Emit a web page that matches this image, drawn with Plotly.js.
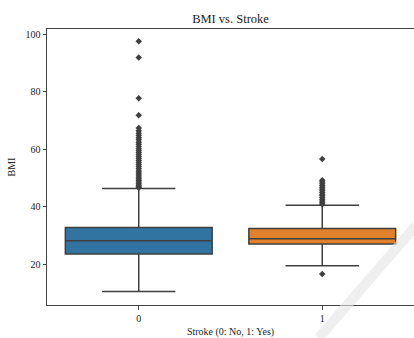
<!DOCTYPE html>
<html><head><meta charset="utf-8">
<script src="https://cdn.plot.ly/plotly-3.0.1.min.js"></script>
<style>html,body{margin:0;padding:0;background:#fff}#c{width:414px;height:338px}</style>
</head><body><div id="c"></div>
<script>
const categories = [0, 1];
const tickLabels = ["0", "1"];
const q1 = [23.6, 27.0];
const medians = [28.2, 28.9];
const q3 = [32.8, 32.4];
const lowerFence = [10.5, 19.5];
const upperFence = [46.4, 40.5];
const outliers0 = [97.6, 92.0, 77.8, 71.9, 67.4, 66.5, 65.6, 64.8, 64.0, 63.3, 62.5, 61.8, 61.0, 60.2, 59.5, 58.8, 58.1, 57.4, 56.7, 56.0, 55.3, 54.6, 53.9, 53.2, 52.5, 51.8, 51.1, 50.4, 49.8, 49.2, 48.6, 48.0, 47.5, 47.0, 46.6];
const outliers1 = [56.6, 49.2, 48.6, 48.0, 47.4, 46.8, 46.2, 45.6, 45.0, 44.4, 43.8, 43.2, 42.6, 42.0, 41.4, 40.9, 16.6];
const colors = ["#3274a1", "#e1812c"];

const traces = categories.map((c, i) => ({
  type: "box",
  x: [c],
  q1: [q1[i]], median: [medians[i]], q3: [q3[i]],
  lowerfence: [lowerFence[i]], upperfence: [upperFence[i]],
  boxpoints: false,
  width: 0.8,
  whiskerwidth: 0.5,
  fillcolor: colors[i],
  line: {color: "#3f3f3f", width: 1.5},
  hoverinfo: "skip",
  showlegend: false
}));
[outliers0, outliers1].forEach((arr, i) => {
  traces.push({
    type: "scatter", mode: "markers",
    x: arr.map(() => categories[i]), y: arr,
    marker: {symbol: "diamond", size: 5, color: "#3f3f3f"},
    showlegend: false, hoverinfo: "skip"
  });
});

const layout = {
  width: 414, height: 338,
  margin: {l: 47, r: 0, t: 29, b: 33},
  paper_bgcolor: "#fff", plot_bgcolor: "#fff",
  font: {family: "Liberation Serif, Times New Roman, serif", color: "#222", size: 10},
  title: {text: "BMI vs. Stroke", xref: "paper", x: 0.5, xanchor: "center", yref: "container", y: 0.944, yanchor: "middle", font: {size: 12.5, color: "#222"}},
  xaxis: {
    range: [-0.5, 1.5], tickvals: categories, ticktext: tickLabels,
    showgrid: false, zeroline: false, showline: true, mirror: true,
    linecolor: "#444", linewidth: 1, ticks: "outside", ticklen: 3.5, tickcolor: "#444",
    tickfont: {size: 10},
    title: {text: "Stroke (0: No, 1: Yes)", font: {size: 10}, standoff: 6}
  },
  yaxis: {
    range: [5.8, 101.9], tickvals: [20, 40, 60, 80, 100],
    showgrid: false, zeroline: false, showline: true, mirror: true,
    linecolor: "#444", linewidth: 1, ticks: "outside", ticklen: 3.5, tickcolor: "#444",
    tickfont: {size: 10},
    title: {text: "BMI", font: {size: 10}, standoff: 8}
  },
  shapes: [{
    type: "line", xref: "paper", yref: "paper", layer: "above",
    x0: 1.005, y0: 0.287, x1: 0.74, y1: -0.12,
    line: {color: "rgba(228,228,228,0.6)", width: 10}
  }]
};
Plotly.newPlot("c", traces, layout, {displayModeBar: false, staticPlot: true});
</script>
</body></html>
